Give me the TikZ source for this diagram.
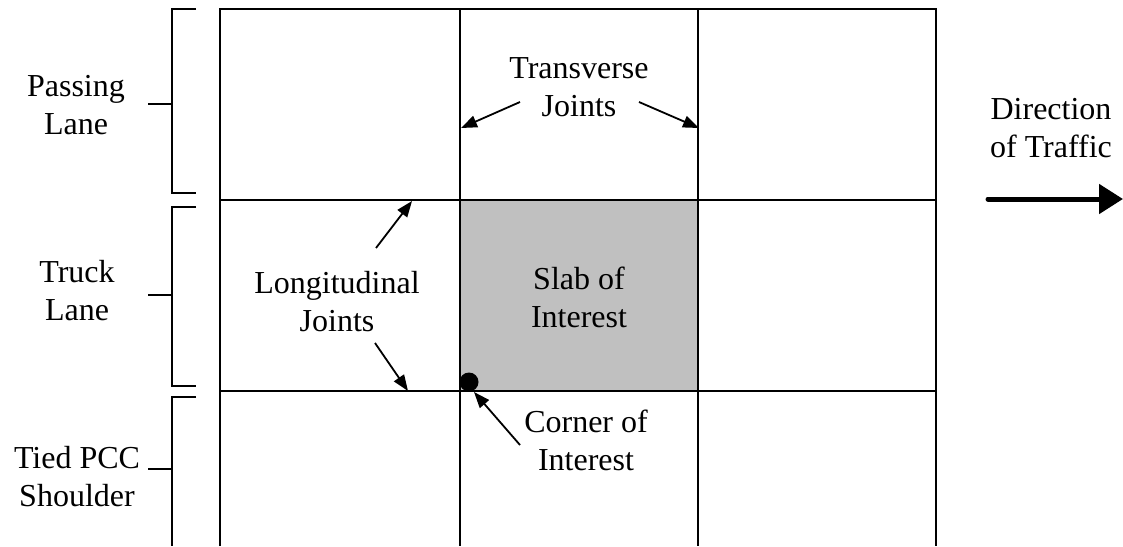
\documentclass[tikz,border=0pt]{standalone}
\usepackage{fontspec}
\setmainfont{Liberation Serif}
\usetikzlibrary{arrows.meta}
\definecolor{slabgray}{HTML}{C0C0C0}
\begin{document}
\begin{tikzpicture}[x=1pt,y=-1pt,
  gridline/.style={line width=1.8pt},
  brk/.style={line width=2pt},
  lbl/.style={font=\fontsize{32}{38}\selectfont, align=center, inner sep=0pt},
  ptr/.style={line width=1.8pt, -{Triangle[length=16pt,width=12pt]}},
  bigptr/.style={line width=5pt, line cap=round, -{Triangle[length=24pt,width=29pt]}}]
\useasboundingbox (0,0) rectangle (1123,546);
% slab of interest
\fill[slabgray] (460,200) rectangle (698,391);
% grid
\draw[gridline] (220,546) -- (220,9) -- (936,9) -- (936,546);
\draw[gridline] (460,9) -- (460,546);
\draw[gridline] (698,9) -- (698,546);
\draw[gridline] (220,200) -- (936,200);
\draw[gridline] (220,391) -- (936,391);
% brackets
\draw[brk] (196,9) -- (172,9) -- (172,193) -- (196,193);
\draw[brk] (148,104) -- (172,104);
\draw[brk] (196,207) -- (172,207) -- (172,386) -- (196,386);
\draw[brk] (148,295) -- (172,295);
\draw[brk] (196,397) -- (172,397) -- (172,546);
\draw[brk] (148,469) -- (172,469);
% corner dot
\fill (469,382) circle (9.5);
% labels
\node[lbl] (pass) at (76,105) {Passing\\Lane};
\node[lbl] (truck) at (77,291) {Truck\\Lane};
\node[lbl] (shoulder) at (77,477) {Tied PCC\\Shoulder};
\node[lbl] (trans) at (579,87) {Transverse\\Joints};
\node[lbl] (longi) at (337,302) {Longitudinal\\Joints};
\node[lbl] (slab) at (579,297) {Slab of\\Interest};
\node[lbl] (corner) at (586,440) {Corner of\\Interest};
\node[lbl] (dir) at (1051,128) {Direction\\of Traffic};
% pointer coordinates
\coordinate (tjLs) at (520,102);
\coordinate (tjLe) at (461,128);
\coordinate (tjRs) at (639,102);
\coordinate (tjRe) at (699,128);
\coordinate (ljUs) at (376,248);
\coordinate (ljUe) at (412,201);
\coordinate (ljDs) at (375,343);
\coordinate (ljDe) at (408,391);
\coordinate (cis) at (520,445);
\coordinate (cie) at (474,392);
\coordinate (dirs) at (988,199);
\coordinate (dire) at (1123,199);
% pointers
\draw[ptr] (tjLs) -- (tjLe);
\draw[ptr] (tjRs) -- (tjRe);
\draw[ptr] (ljUs) -- (ljUe);
\draw[ptr] (ljDs) -- (ljDe);
\draw[ptr] (cis) -- (cie);
\draw[bigptr] (dirs) -- (dire);
\end{tikzpicture}
\end{document}
